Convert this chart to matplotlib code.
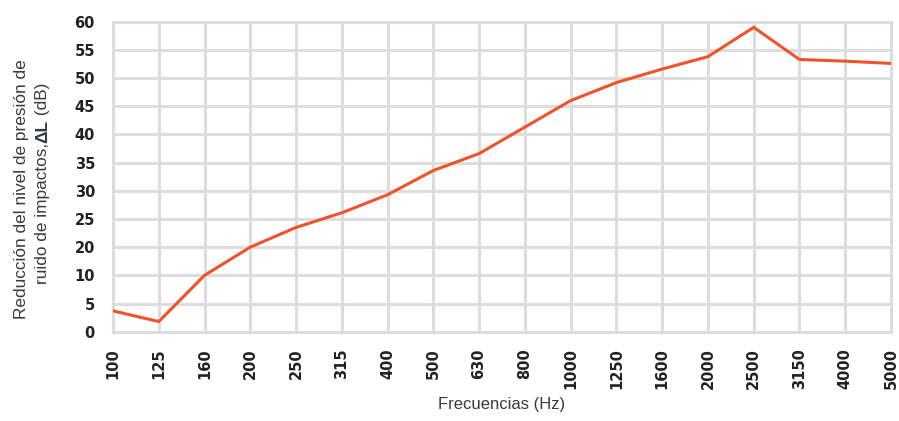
"""Reducción del nivel de presión de ruido de impactos (ΔL) por banda de frecuencia."""

import numpy as np
import matplotlib
matplotlib.use("Agg")
import matplotlib.pyplot as plt

LINE = "#f0522c"
GRID = "#dddddd"
TICK_INK = "#222222"
LABEL_INK = "#3a3a3a"
DELTA_INK = "#2b3a4a"

FREQS = ["100", "125", "160", "200", "250", "315", "400", "500", "630", "800",
         "1000", "1250", "1600", "2000", "2500", "3150", "4000", "5000"]
DELTA_L = [3.7, 1.8, 10.0, 20.0, 23.5, 26.1, 29.3, 33.6, 36.6, 41.3,
           46.0, 49.2, 51.6, 53.8, 59.0, 53.3, 53.0, 52.6]

# the source chart skips 15 on its y axis: ticks are evenly spaced anyway
Y_TICKS = [0, 5, 10, 20, 25, 30, 35, 40, 45, 50, 55, 60]


def main():
    tick_pos = np.arange(len(Y_TICKS), dtype=float)

    def fwd(v):
        return np.interp(v, Y_TICKS, tick_pos)

    def inv(p):
        return np.interp(p, tick_pos, Y_TICKS)

    fig = plt.figure(figsize=(8.99, 4.21), dpi=100)
    ax = fig.add_axes([113 / 899, 1 - 331.7 / 421, (891 - 113) / 899, (331.7 - 21.7) / 421])

    ax.set_yscale("function", functions=(fwd, inv))
    ax.plot(FREQS, DELTA_L, color=LINE, linewidth=2.2, zorder=3)

    ax.set_xlim(0, len(FREQS) - 1)
    ax.set_ylim(0, 60)
    ax.set_yticks(Y_TICKS)
    ax.set_yticklabels([str(t) for t in Y_TICKS])
    ax.yaxis.set_minor_locator(matplotlib.ticker.NullLocator())

    ax.grid(True, color=GRID, linewidth=2.2, zorder=0)
    ax.set_axisbelow(True)
    for s in ax.spines.values():
        s.set_color(GRID)
        s.set_linewidth(2.2)

    ax.tick_params(axis="both", length=0, labelcolor=TICK_INK)
    ax.tick_params(axis="y", pad=13)
    ax.tick_params(axis="x", pad=12, labelrotation=90)
    for lab in ax.get_yticklabels() + ax.get_xticklabels():
        lab.set_fontfamily("DejaVu Sans")
        lab.set_fontweight("bold")
        lab.set_fontsize(10.5)

    fig.text(502 / 899, 1 - 405 / 421, "Frecuencias (Hz)", ha="center", va="center",
             fontsize=12, family="Liberation Sans", color=LABEL_INK)

    # y label, two lines, with a bold ΔL in the second one
    fig.text(22 / 899, 1 - 189 / 421, "Reducción del nivel de presión de", rotation=90,
             ha="center", va="center", fontsize=12.4, family="Liberation Sans", color=LABEL_INK)
    parts = [("ruido de impactos,", "normal", LABEL_INK),
             ("ΔL", "bold", DELTA_INK),
             (" (dB)", "normal", LABEL_INK)]
    texts = [fig.text(43 / 899, 0, p, rotation=90, ha="center", va="bottom", fontsize=12.4,
                      family="Liberation Sans", fontweight=w, color=c) for p, w, c in parts]
    fig.canvas.draw()
    r = fig.canvas.get_renderer()
    heights = [t.get_window_extent(r).height for t in texts]
    y = (421 - 183) - sum(heights) / 2
    for t, h in zip(texts, heights):
        t.set_y(y / 421)
        y += h

    fig.savefig("out.png", dpi=100, facecolor="white")


if __name__ == "__main__":
    main()
